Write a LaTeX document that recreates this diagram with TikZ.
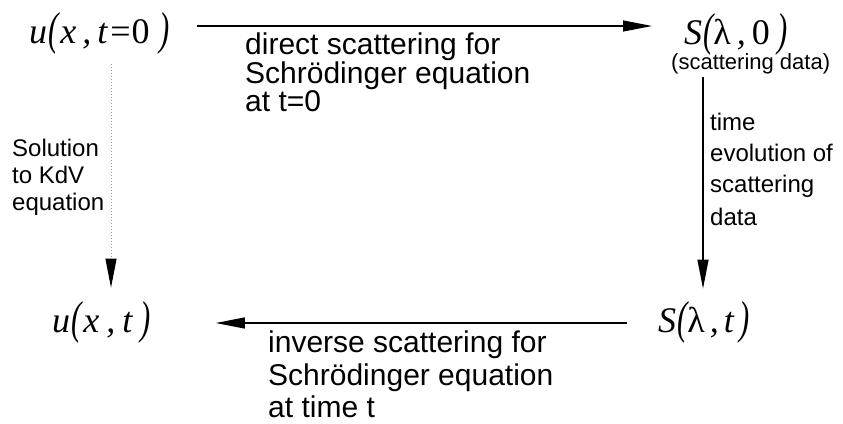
\documentclass[tikz,border=0pt]{standalone}
\usepackage{fontspec}
\usepackage{graphicx}
\setmainfont{Liberation Sans}
\newfontfamily\tms{Liberation Serif}
\usetikzlibrary{arrows.meta}
\newcommand{\lpar}{\raisebox{-0.05em}{\scalebox{0.85}[1.28]{(}}}
\newcommand{\rpar}{\raisebox{-0.05em}{\scalebox{0.85}[1.28]{)}}}
\begin{document}
\begin{tikzpicture}[x=1pt,y=-1pt,
  mathlbl/.style={inner sep=0pt, font=\tms\fontsize{36}{36}\selectfont\itshape},
  biglbl/.style={inner sep=0pt, align=left, font=\fontsize{30}{28.5}\selectfont},
  biglblb/.style={inner sep=0pt, align=left, font=\fontsize{30}{32.5}\selectfont},
  sidelbl/.style={inner sep=0pt, align=left, font=\fontsize{24}{27}\selectfont},
  sidelblr/.style={inner sep=0pt, align=left, font=\fontsize{24}{31}\selectfont},
  smalllbl/.style={inner sep=0pt, font=\fontsize{22}{24}\selectfont},
  arr/.style={line width=1.2pt, -{Triangle[length=29pt,width=11pt]}},
  dotarr/.style={line width=1pt, draw=black!40, dash pattern=on 1.5pt off 1.5pt,
    -{Triangle[length=29pt,width=11pt,black,fill=black]}}]
\useasboundingbox[fill=white] (0,0) rectangle (843,423);

\node[mathlbl, anchor=base west] (u0) at (29,43)
  {u\kern1pt\lpar\kern2pt x\kern6pt,\kern6pt t\kern3pt{\upshape=}\kern1pt{\upshape 0}\kern10pt\rpar};
\node[mathlbl, anchor=base west] (S0) at (684,44)
  {S\kern1pt\lpar{\upshape λ}\kern6pt,\kern6pt{\upshape 0}\kern8pt\rpar};
\node[smalllbl, anchor=base west] (sd) at (671,69) {(scattering data)};
\node[mathlbl, anchor=base west] (ut) at (52,332)
  {u\kern1pt\lpar\kern2pt x\kern7pt,\kern7pt t\kern8pt\rpar};
\node[mathlbl, anchor=base west] (St) at (658,332)
  {S\kern1pt\lpar{\upshape λ}\kern5pt,\kern5pt t\kern6pt\rpar};

\node[biglbl, anchor=north west] (l1) at (245,33)
  {direct scattering for\\Schrödinger equation\\at t=0};
\node[biglblb, anchor=north west] (l2) at (268,331)
  {inverse scattering for\\Schrödinger equation\\at time t};
\node[sidelbl, anchor=north west] (l3) at (12,139)
  {Solution\\to KdV\\equation};
\node[sidelblr, anchor=north west] (l4) at (710,113)
  {time\\evolution of\\scattering\\[2pt]data};

\coordinate (rowT) at (0,26);
\coordinate (rowB) at (0,323);
\coordinate (colL) at (111,0);
\coordinate (colR) at (703,0);

\draw[arr, shorten <=27pt, shorten >=32pt] (u0.east |- rowT) -- (S0.west |- rowT);
\draw[arr, shorten <=3pt, shorten >=13pt] (sd.south -| colR) -- (St.north -| colR);
\draw[arr, shorten <=31pt, shorten >=65pt] (St.west |- rowB) -- (ut.east |- rowB);
\draw[dotarr, shorten <=9pt, shorten >=14pt] (u0.south -| colL) -- (ut.north -| colL);
\end{tikzpicture}
\end{document}
